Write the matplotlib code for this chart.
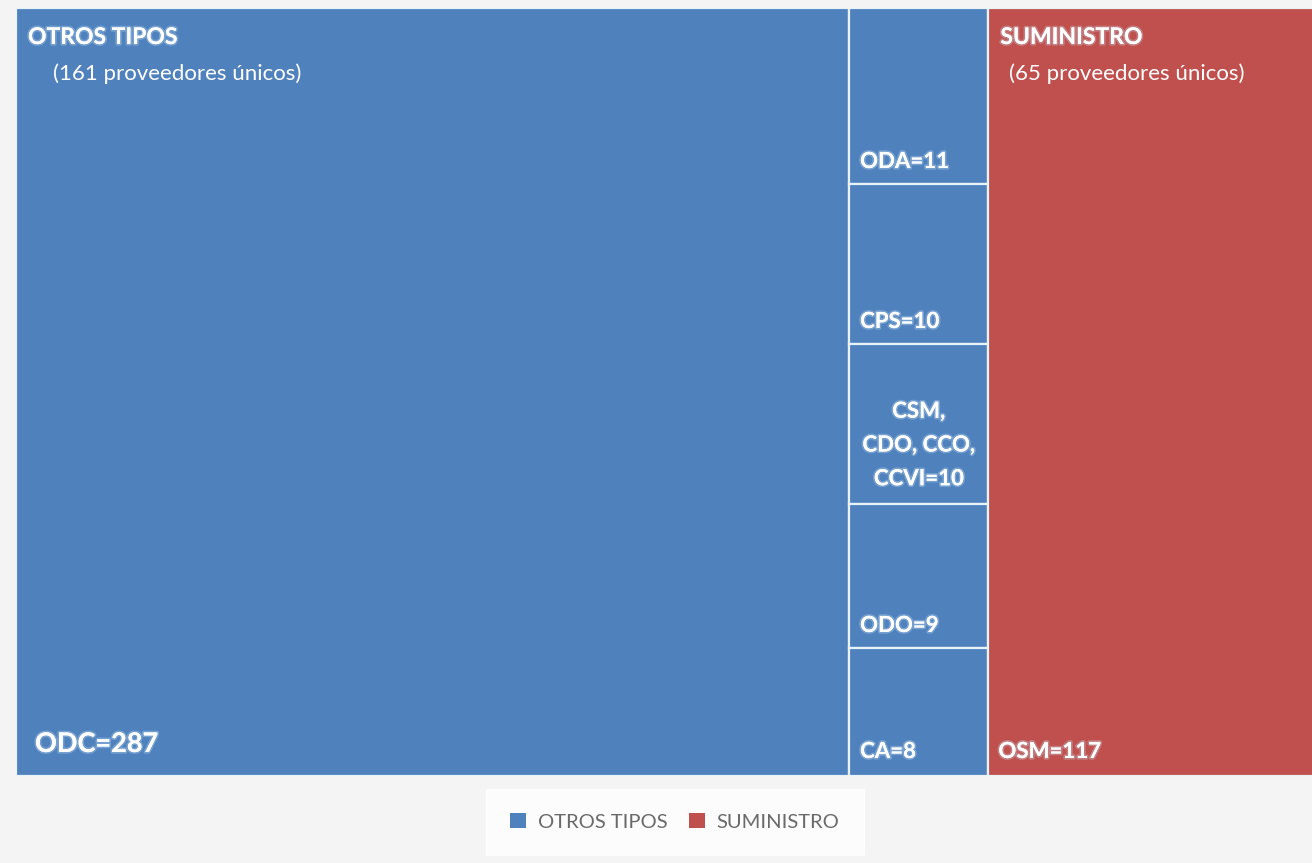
import matplotlib
matplotlib.use('Agg')
import matplotlib.pyplot as plt
from matplotlib.patches import Rectangle, Patch
import matplotlib.patheffects as pe

# datos
grupos = ['OTROS TIPOS', 'SUMINISTRO']
proveedores = [161, 65]
colores = ['#4F81BD', '#C0504D']

cat_principal = 'ODC'
val_principal = 287
cats_menores = ['ODA', 'CPS', 'CSM,\nCDO, CCO,\nCCVI', 'ODO', 'CA']
vals_menores = [11, 10, 10, 9, 8]
cat_sum = 'OSM'
val_sum = 117

total = val_principal + sum(vals_menores) + val_sum

fig = plt.figure(figsize=(13.12, 8.63), dpi=100)
fig.patch.set_facecolor('#f4f4f4')
W, H = 1312, 863
# el area del grafico se sale por la derecha (recortada)
ax = fig.add_axes([16 / W, (H - 776) / H, 1312 / W, 768 / H])
ax.set_xlim(0, total)
ax.set_ylim(0, 1)
ax.axis('off')

glow = [pe.withStroke(linewidth=2.5, foreground=(0.8, 0.9, 0.97, 0.3))]
txt = dict(color='white', fontfamily='Lato', path_effects=glow)
borde = dict(edgecolor='#e8f3f8', linewidth=1.6)

# ODC
ax.add_patch(Rectangle((0, 0), val_principal, 1, facecolor=colores[0], **borde))
ax.annotate(f'{cat_principal}={val_principal}', (0, 0), xytext=(19, 20),
            textcoords='offset pixels', fontsize=19.5, fontweight='bold',
            ha='left', va='bottom', **txt)
ax.annotate(grupos[0], (0, 1), xytext=(12, -19), textcoords='offset pixels',
            fontsize=16.5, fontweight='bold', ha='left', va='top', **txt)
ax.annotate(f'({proveedores[0]} proveedores únicos)', (0, 1), xytext=(37, -55),
            textcoords='offset pixels', fontsize=16, ha='left', va='top',
            color='white', fontfamily='Lato')

# columna de categorias menores
x0 = val_principal
ancho = sum(vals_menores)
y = 1.0
for i, (c, v) in enumerate(zip(cats_menores, vals_menores)):
    h = v / ancho
    y -= h
    ax.add_patch(Rectangle((x0, y), ancho, h, facecolor=colores[0], **borde))
    if '\n' in c:
        ax.annotate(f'{c}={v}', (x0 + ancho / 2, y + h / 2), xytext=(0, -21),
                    textcoords='offset pixels', ha='center', va='center',
                    fontsize=16, fontweight='bold', linespacing=1.75, **txt)
    else:
        off = 14 if i == len(cats_menores) - 1 else 12
        ax.annotate(f'{c}={v}', (x0, y), xytext=(11, off), textcoords='offset pixels',
                    fontsize=16, fontweight='bold', ha='left', va='bottom', **txt)

# suministro
x1 = x0 + ancho
ax.add_patch(Rectangle((x1, 0), val_sum, 1, facecolor=colores[1], **borde))
ax.annotate(f'{cat_sum}={val_sum}', (x1, 0), xytext=(10, 14), textcoords='offset pixels',
            fontsize=16, fontweight='bold', ha='left', va='bottom', **txt)
ax.annotate(grupos[1], (x1, 1), xytext=(12, -19), textcoords='offset pixels',
            fontsize=16.5, fontweight='bold', ha='left', va='top', **txt)
ax.annotate(f'({proveedores[1]} proveedores únicos)', (x1, 1), xytext=(21, -55),
            textcoords='offset pixels', fontsize=16, ha='left', va='top',
            color='white', fontfamily='Lato')

handles = [Patch(facecolor=colores[0]), Patch(facecolor=colores[1])]
leg = fig.legend(handles, grupos, loc='center', bbox_to_anchor=(675 / W, (H - 822) / H),
                 ncol=2, frameon=True, fancybox=False, borderpad=1.2,
                 handlelength=0.75, handleheight=0.75, handletextpad=0.6,
                 columnspacing=1.1, prop={'family': 'Lato', 'size': 14.5})
leg.get_frame().set_facecolor('white')
leg.get_frame().set_edgecolor('white')
for t in leg.get_texts():
    t.set_color('#6a6a6a')

fig.savefig('out.png', dpi=100, facecolor=fig.get_facecolor())
